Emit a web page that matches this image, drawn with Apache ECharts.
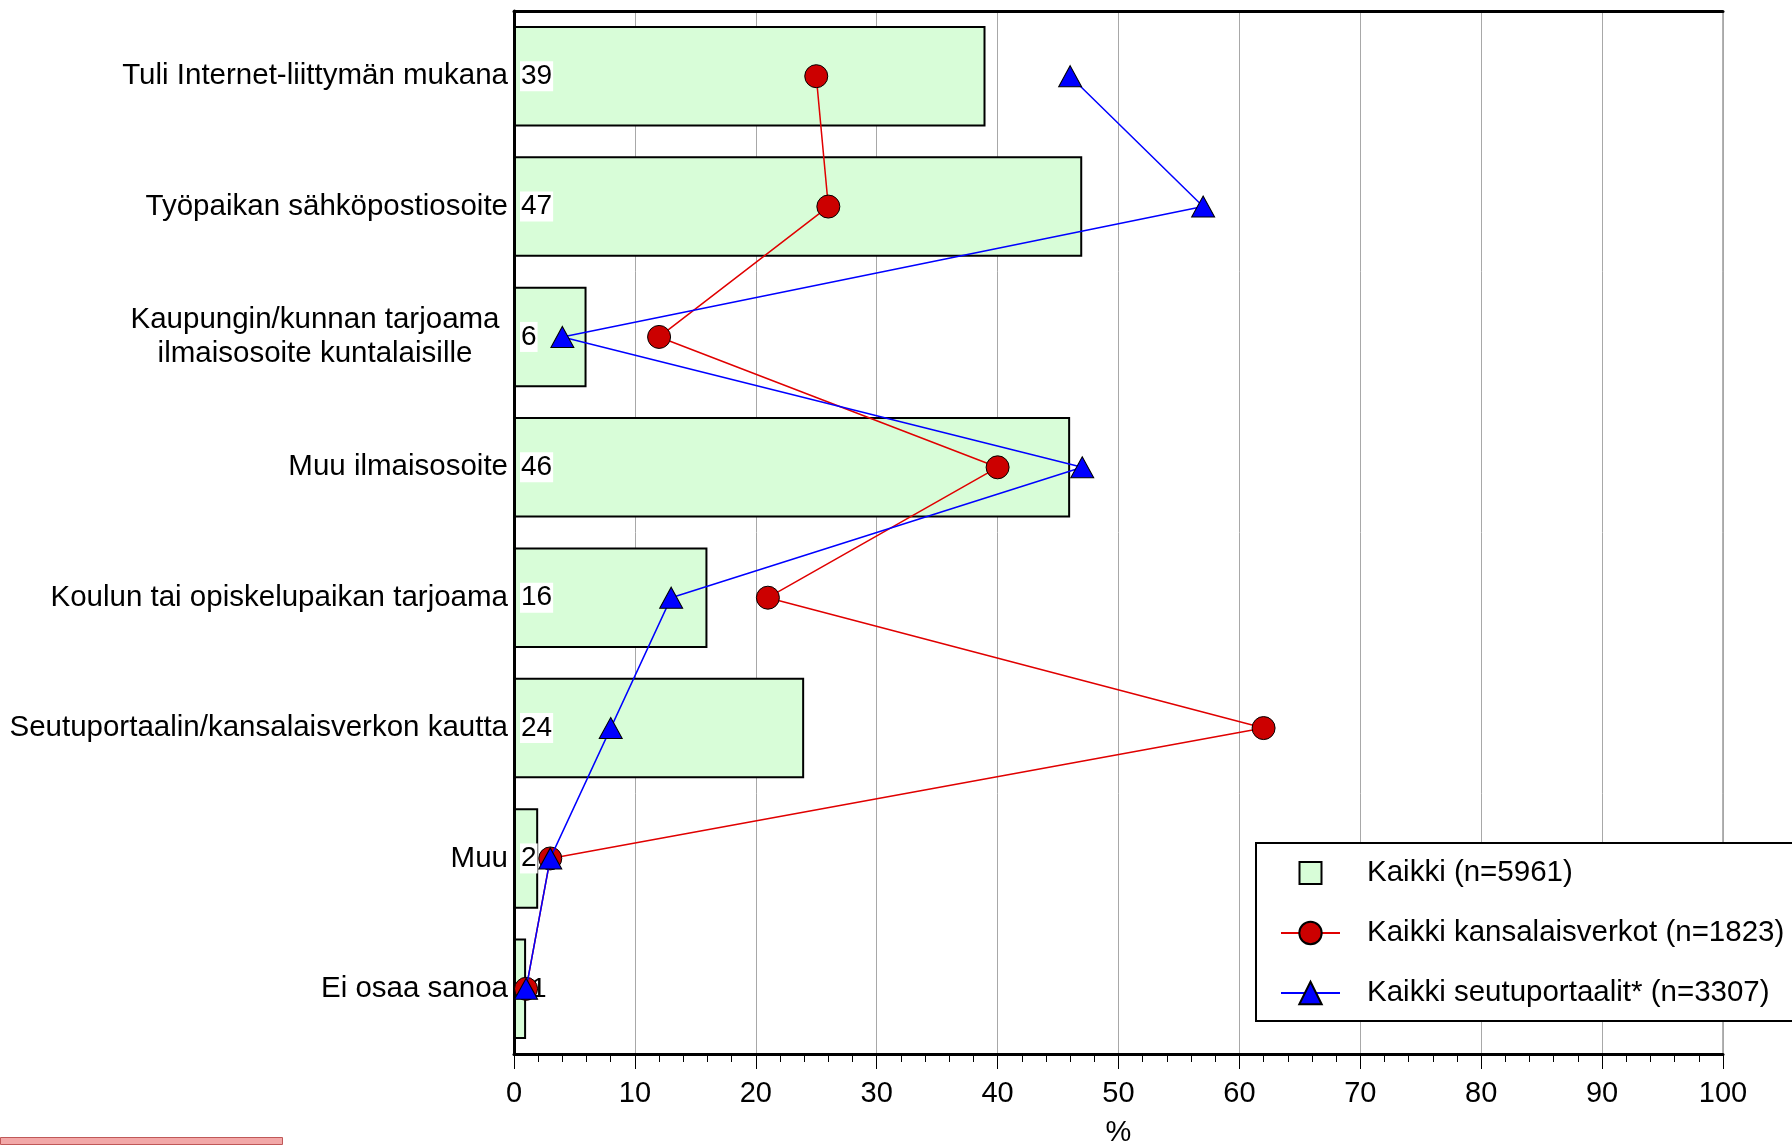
<!DOCTYPE html>
<html>
<head>
<meta charset="utf-8">
<script src="https://cdn.jsdelivr.net/npm/echarts@6/dist/echarts.min.js"></script>
<style>
  html, body { margin: 0; padding: 0; background: #fff; }
  #Chart { width: 1792px; height: 1145px; }
</style>
</head>
<body>
<div id="Chart"></div>
<script>
const categories = [
  "Tuli Internet-liittymän mukana",
  "Työpaikan sähköpostiosoite",
  "Kaupungin/kunnan tarjoama\nilmaisosoite kuntalaisille",
  "Muu ilmaisosoite",
  "Koulun tai opiskelupaikan tarjoama",
  "Seutuportaalin/kansalaisverkon kautta",
  "Muu",
  "Ei osaa sanoa"
]
const kaikki = [39, 47, 6, 46, 16, 24, 2, 1]
const kansalaisverkot = [25, 26, 12, 40, 21, 62, 3, 1]
const seutuportaalit = [46, 57, 4, 47, 13, 8, 3, 1]
const xTicks = [0, 10, 20, 30, 40, 50, 60, 70, 80, 90, 100]

const font = "'Liberation Sans', Arial, sans-serif"
const chart = echarts.init(document.getElementById("Chart"), null, { renderer: "canvas" })

// pieni arvo: nimiö siirretään symbolin viereen
const barData = kaikki.map(v => v < 2 ? { value: v, label: { offset: [10, 0] } } : v)

const option = {
  animation: false,
  backgroundColor: "#fff",
  textStyle: { fontFamily: font },
  grid: {
    left: 514, right: 69, top: 11, bottom: 91,
    containLabel: false,
    outerBoundsMode: "none",
    show: true, borderColor: "#666", borderWidth: 1
  },
  legend: {
    orient: "vertical",
    left: 1256,
    top: 843,
    padding: [15, 40, 13, 24],
    itemWidth: 59,
    itemHeight: 28,
    itemGap: 30,
    borderColor: "#000",
    borderWidth: 2,
    backgroundColor: "#fff",
    textStyle: { fontSize: 29.5, color: "#000", padding: [0, 0, 0, 22] },
    data: [
      { name: "Kaikki (n=5961)", icon: "path://M-3,-3M25,25M0,0L22,0L22,22L0,22Z" },
      { name: "Kaikki kansalaisverkot (n=1823)" },
      { name: "Kaikki seutuportaalit* (n=3307)" }
    ]
  },
  xAxis: [
    {
      type: "value",
      min: xTicks[0],
      max: xTicks[xTicks.length - 1],
      interval: 10,
      name: "%",
      nameLocation: "middle",
      nameGap: 64,
      nameTextStyle: { fontSize: 29, color: "#000" },
      axisLine: { show: true, lineStyle: { color: "#000", width: 3 } },
      axisTick: { show: true, length: 15, lineStyle: { color: "#000", width: 1 } },
      minorTick: { show: true, splitNumber: 5, length: 8, lineStyle: { color: "#000", width: 1 } },
      axisLabel: { fontSize: 29, color: "#000", margin: 25 },
      splitLine: { show: true, lineStyle: { color: "#a8a8a8", width: 1 } }
    },
    {
      type: "value",
      position: "top",
      min: 0,
      max: 100,
      interval: 10,
      axisLine: { show: true, lineStyle: { color: "#000", width: 3 } },
      axisTick: { show: false },
      axisLabel: { show: false },
      splitLine: { show: false }
    }
  ],
  yAxis: {
    type: "category",
    inverse: true,
    data: categories,
    axisLine: { show: true, lineStyle: { color: "#000", width: 3 } },
    axisTick: { show: false },
    axisLabel: {
      fontSize: 29.5,
      color: "#000",
      margin: 6,
      lineHeight: 34,
      formatter: (val) => {
        if (val.indexOf("\n") < 0) return val
        return val.split("\n").map(s => "{c|" + s + "}").join("\n")
      },
      rich: {
        c: { fontSize: 29.5, color: "#000", width: 386, align: "center", lineHeight: 34 }
      }
    }
  },
  series: [
    {
      name: "Kaikki (n=5961)",
      type: "bar",
      z: 2,
      barWidth: "77%",
      itemStyle: { color: "#d8fdd8", borderColor: "#000", borderWidth: 2 },
      label: {
        show: true,
        position: "insideLeft",
        distance: 6,
        fontSize: 28,
        color: "#000",
        backgroundColor: "#fff",
        padding: [2, 1, 0, 1]
      },
      data: barData
    },
    {
      name: "Kaikki kansalaisverkot (n=1823)",
      type: "line",
      z: 3,
      symbol: "circle",
      symbolSize: 23,
      itemStyle: { color: "#cc0000", borderColor: "#000", borderWidth: 1 },
      lineStyle: { color: "#e00000", width: 1.5 },
      data: kansalaisverkot
    },
    {
      name: "Kaikki seutuportaalit* (n=3307)",
      type: "line",
      z: 4,
      symbol: "triangle",
      symbolSize: [23, 21],
      itemStyle: { color: "#0000ff", borderColor: "#000", borderWidth: 1 },
      lineStyle: { color: "#0000ff", width: 1.5 },
      data: seutuportaalit
    }
  ],
  graphic: [
    {
      type: "rect",
      left: 0,
      bottom: 0,
      shape: { width: 282, height: 7 },
      style: { fill: "#f2a8a8", stroke: "#c05858", lineWidth: 1 }
    }
  ]
}

chart.setOption(option)
</script>
</body>
</html>
